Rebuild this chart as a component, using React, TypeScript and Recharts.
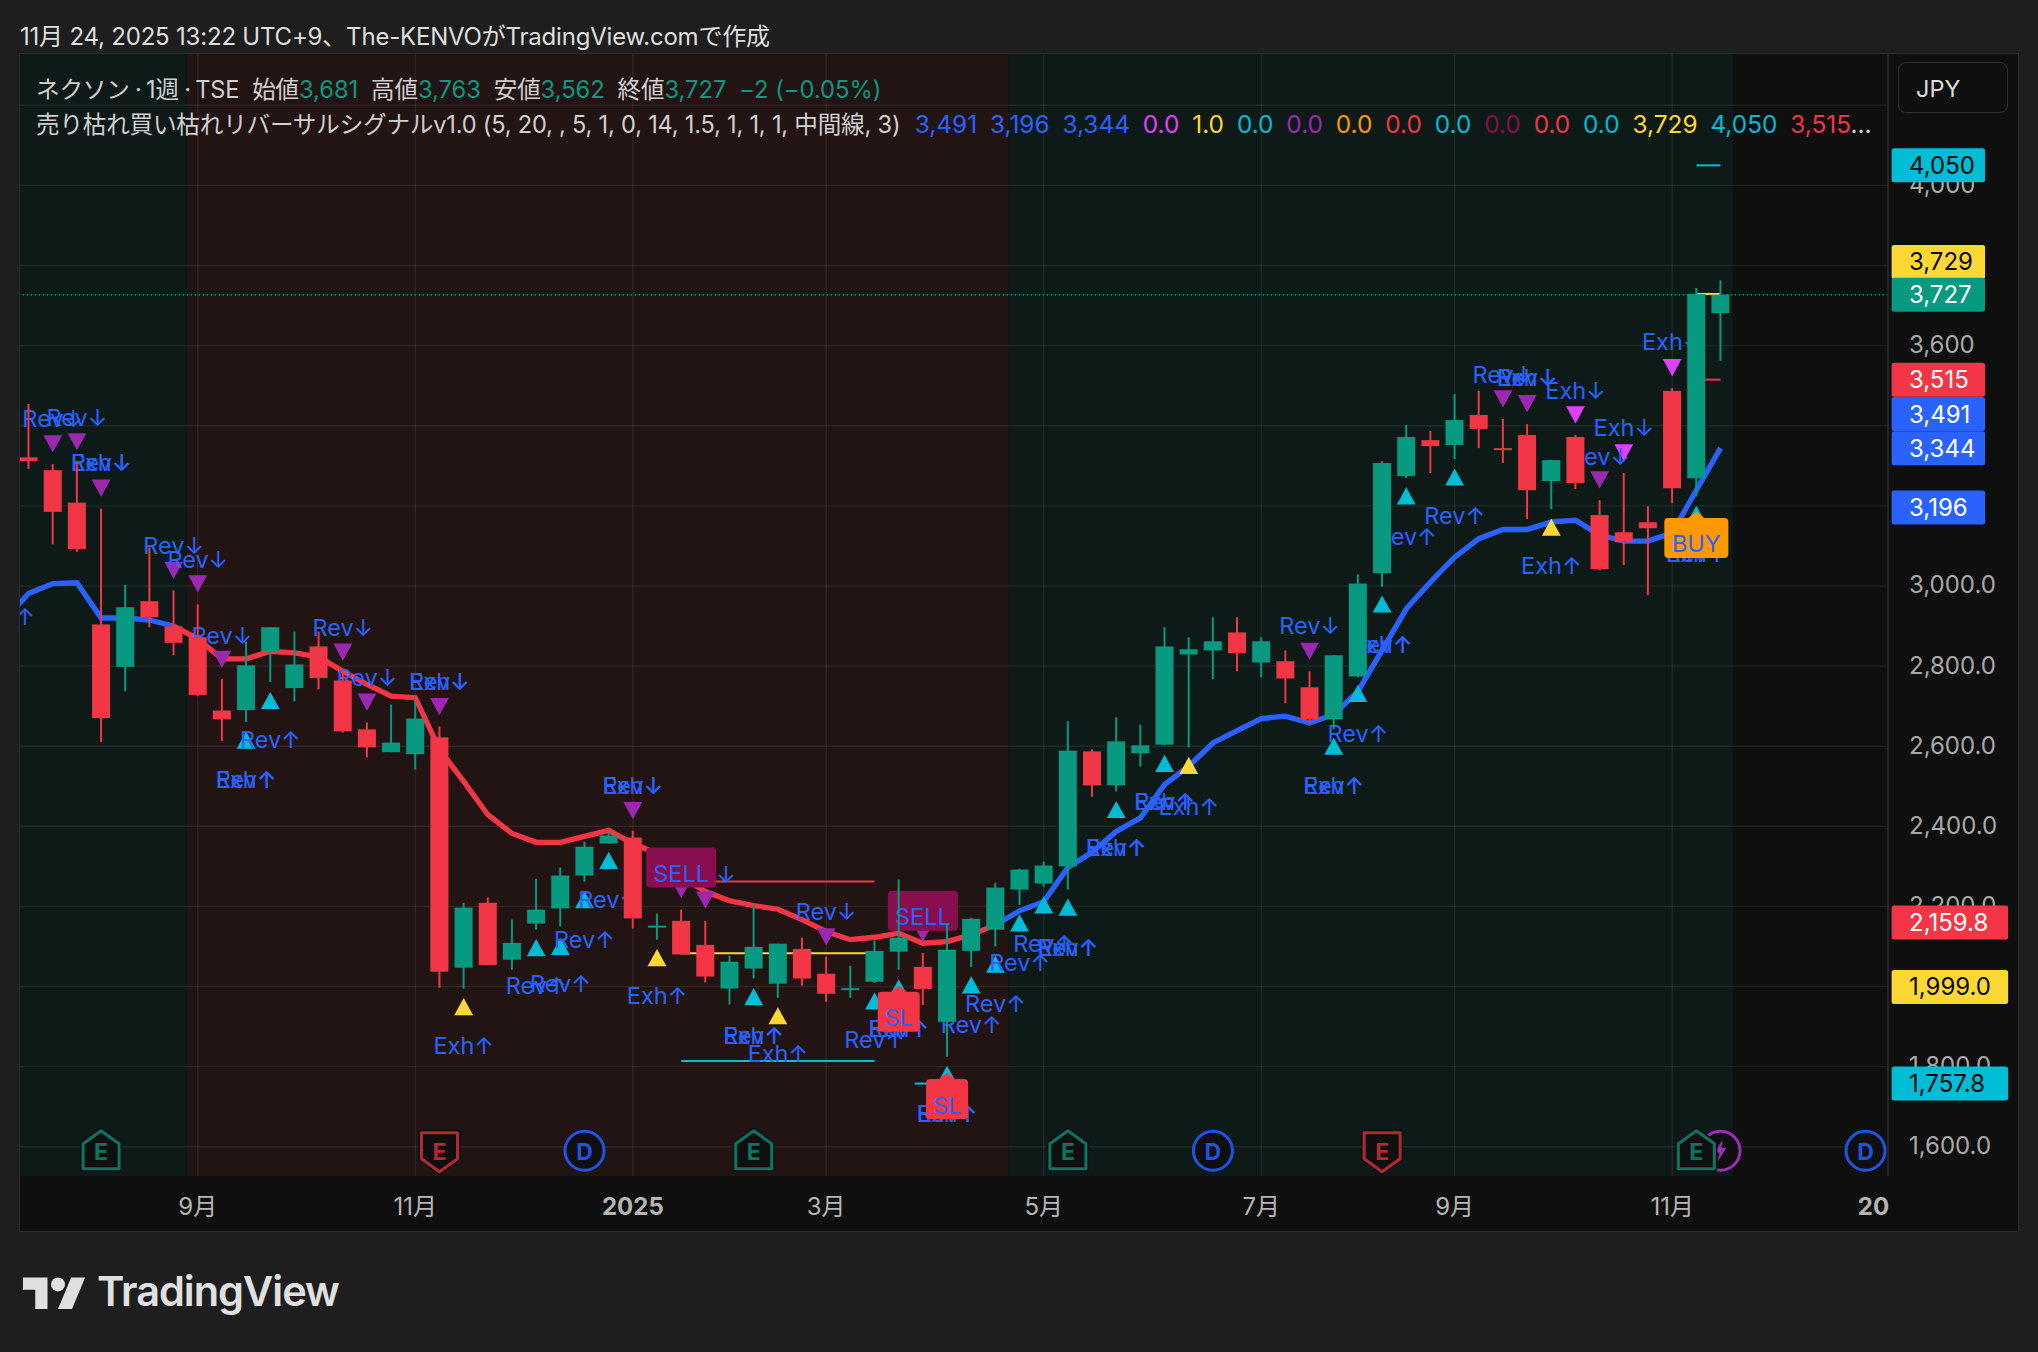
import React from "react";
import { ComposedChart, Bar, Line, Scatter, XAxis, YAxis, ReferenceLine, ReferenceArea } from "recharts";

const opens = [3321,3289,3208,2904,2798,2962,2899,2872,2689,2690,2837,2745,2849,2764,2642,2585,2580,2622,2047,2209,2067,2157,2195,2277,2357,2372,2148,2164,2104,1995,2045,2007,2094,2032,1992,2012,2087,2049,1912,2089,2142,2242,2257,2300,2587,2502,2582,2604,2829,2839,2884,2809,2812,2747,2667,2774,3032,3274,3364,3352,3427,3344,3377,3262,3372,3177,3134,3159,3487,3269,3681];
const highs = [3454,3304,3308,3193,3003,3096,2989,2954,2767,2861,2897,2886,2886,2792,2659,2704,2711,2649,2209,2222,2167,2269,2297,2362,2387,2389,2182,2192,2164,2077,2204,2107,2122,2074,2052,2114,2267,2084,2158,2172,2259,2294,2312,2662,2592,2672,2654,2897,2872,2922,2922,2872,2839,2787,2827,3029,3312,3402,3387,3479,3487,3417,3404,3314,3377,3214,3282,3199,3494,3744,3763];
const lows = [3292,3104,3085,2610,2737,2897,2827,2725,2613,2660,2760,2712,2742,2634,2572,2585,2542,1997,1995,2054,2042,2142,2150,2262,2357,2145,2117,2080,2010,1955,2020,1972,2002,1962,1972,2009,2042,1954,1825,2049,2100,2204,2249,2242,2474,2487,2549,2602,2597,2767,2787,2772,2707,2657,2642,2772,2998,3269,3282,3317,3344,3307,3167,3192,3242,3039,3052,2977,3207,3224,3562];
const closes = [3312,3185,3092,2670,2947,2922,2858,2728,2667,2802,2897,2804,2770,2637,2597,2609,2669,2037,2197,2054,2109,2192,2277,2349,2377,2170,2152,2080,2025,2062,2099,2107,2020,1982,1996,2089,2122,1994,2092,2169,2247,2292,2302,2589,2502,2612,2602,2849,2842,2862,2832,2862,2769,2667,2827,3006,3307,3372,3349,3414,3392,3340,3239,3314,3257,3042,3109,3144,3244,3729,3727];
// band line, first entry sits one week before the first candle
const bandBlue: (number | null)[] = [2916,2981,3006,3008,2920,2920,2915,2900,null,null,null,null,null,null,null,null,null,null,null,null,null,null,null,null,null,null,null,null,null,null,null,null,null,null,null,null,null,null,null,null,null,2154,2189,2212,2297,2335,2387,2421,2504,2550,2608,2639,2669,2675,2658,2679,2737,2840,2943,3010,3072,3118,3141,3141,3160,3164,3127,3112,3112,3132,3239,3344];
const bandRed: (number | null)[] = [null,null,null,null,null,null,null,2900,2868,2818,2818,2837,2833,2823,2787,2754,2725,2721,2592,2512,2429,2382,2360,2360,2375,2390,2357,2332,2275,2237,2214,2202,2193,2167,2137,2117,2123,2133,2108,2112,2129,2154];

const gridPrices = [1600,1800,2000,2200,2400,2600,2800,3000,3200,3400,3600,3800,4000,4200];
const gridWeeks = [7,16,25,33,42,51,59,68];
const axisPrices = [1600,1800,2200,2400,2600,2800,3000,3600,4000];
const axisPriceLabels = ["1,600.0","1,800.0","2,200.0","2,400.0","2,600.0","2,800.0","3,000.0","3,600","4,000"];
const tagPositions = [4050,3809,3727,3515,3429,3344,3196,2159.8,1999,1757.8];
const tagLabels = ["4,050","3,729","3,727","3,515","3,491","3,344","3,196","2,159.8","1,999.0","1,757.8"];
const tagColors = ["#00bcd4","#fdd835","#089981","#f23645","#2962ff","#2962ff","#2962ff","#f23645","#fdd835","#00bcd4"];
const tagInk = ["#0b0b0b","#0b0b0b","#ffffff","#ffffff","#ffffff","#ffffff","#ffffff","#ffffff","#0b0b0b","#0b0b0b"];

const monthWeeks = [7,16,25,33,42,51,59,68,76.33];
const monthLabels = ["9月","11月","2025","3月","5月","7月","9月","11月","20"];
const boldMonths = ["2025","20"];

const purpleDown = [[1,3355],[2,3360],[3,3244],[6,3039],[7,3005],[8,2817],[13,2835],[14,2710],[17,2699],[25,2439],[27,2242],[28,2216],[33,2124],[37,2133],[53,2837],[61,3467],[62,3455],[65,3265]];
const magentaDown = [[64,3427],[66,3332],[68,3545]];
const cyanUp = [[9,2615],[10,2714],[21,2097],[22,2100],[23,2217],[24,2315],[30,1975],[35,1964],[36,1997],[38,1781],[39,2004],[40,2056],[41,2159],[42,2204],[43,2198],[45,2442],[47,2557],[54,2600],[55,2732],[56,2955],[57,3225],[59,3272],[69,3179]];
const yellowUp = [[18,1950],[26,2072],[31,1927],[48,2552],[63,3147]];

const revDown = [[1,3417],[2,3421],[3,3307],[6,3102],[7,3067],[8,2877],[13,2897],[14,2771],[17,2762],[25,2502],[28,2279],[33,2187],[53,2902],[61,3529],[62,3521],[65,3322]];
const exhDown = [[3,3307],[17,2762],[25,2502],[62,3521],[64,3489],[66,3395],[68,3610]];
const revUp = [[-1,2925],[9,2517],[10,2617],[21,2002],[22,2007],[23,2117],[24,2217],[30,1877],[35,1867],[36,1896],[38,1683],[39,1906],[40,1957],[41,2060],[42,2108],[43,2098],[45,2347],[47,2462],[54,2502],[55,2632],[56,2854],[57,3124],[59,3175],[69,3081]];
const exhUp = [[9,2517],[18,1852],[26,1977],[30,1877],[31,1833],[36,1896],[38,1683],[43,2098],[45,2347],[47,2462],[48,2450],[54,2502],[56,2854],[63,3050],[69,3081]];

const boxes = [[27,2297,"SELL"],[37,2189,"SELL"],[36,1937,"SL"],[38,1719,"SL"],[69,3120,"BUY"]];
const levels = [[27,35,2262,"#f23645"],[27,35,2083,"#fdd835"],[27,35,1814,"#00bcd4"],[36.67,37.3,2159.8,"#f23645"],[36.67,37.3,1757.8,"#00bcd4"],[69,70,4050,"#00bcd4"],[69,70,3729,"#fdd835"],[69,70,3515,"#f23645"]];
const eventWeeks = [70,3,17,23,30,43,49,56,69,76];
const eventKinds = ["S","EG","ER","D","EG","EG","D","ER","EG","D"];
const eventPrice = 1590;

const legendValues = ["3,491","3,196","3,344","0.0","1.0","0.0","0.0","0.0","0.0","0.0","0.0","0.0","0.0","3,729","4,050","3,515"];
const legendColors = ["#2962ff","#2962ff","#2962ff","#e040fb","#fdd835","#00bcd4","#9c27b0","#ff9800","#f23645","#00bcd4","#880e4f","#f23645","#00bcd4","#fdd835","#00bcd4","#f23645"];

const FONT = "Inter, 'Noto Sans CJK JP', sans-serif";
const UP = "#089981";
const DOWN = "#f23645";
const GRID = "rgba(255,255,255,0.07)";
const AXIS_LEFT = 1868;
const LABEL_SIZE = 23.5;
const AXIS_SIZE = 24;

const table = [
  { i: -1, blue: bandBlue[0], red: null as number | null },
  ...opens.map((o, k) => ({
    i: k, open: o, high: highs[k], low: lows[k], close: closes[k],
    range: [lows[k], highs[k]],
    blue: bandBlue[k + 1] ?? null,
    red: bandRed[k + 1] ?? null,
  })),
];
const pts = (a: number[][]) => a.map(([i, y]) => ({ i, y }));

function Candle(p: any) {
  const d = p.payload;
  if (!d || d.open === undefined || !p.height) return <g />;
  const cx = p.x + p.width / 2;
  const perUnit = p.height / (d.high - d.low);
  const yOf = (v: number) => p.y + (d.high - v) * perUnit;
  const color = d.close >= d.open ? UP : DOWN;
  const top = yOf(Math.max(d.open, d.close));
  const h = Math.max(2, Math.abs(d.open - d.close) * perUnit);
  return (
    <g>
      <rect x={cx - 1} y={p.y} width={2} height={p.height} fill={color} />
      <rect x={cx - 9} y={top} width={18} height={h} fill={color} />
    </g>
  );
}
const tri = (color: string, up: boolean) => (p: any) => {
  const { cx, cy } = p;
  const w = 9.4, h = 8.6;
  const d = up
    ? `M${cx - w},${cy + h}L${cx},${cy - h}L${cx + w},${cy + h}Z`
    : `M${cx - w},${cy - h}L${cx},${cy + h}L${cx + w},${cy - h}Z`;
  return <path d={d} fill={color} />;
};
const label = (text: string) => (p: any) => (
  <text x={p.cx} y={p.cy} textAnchor="middle" dominantBaseline="central" fontFamily={FONT} fontSize={LABEL_SIZE} fill="#2962ff">{text}</text>
);
function BoxShape(p: any) {
  const kind = p.payload.kind;
  const { cx, cy } = p;
  const spec: any = { SELL: [70, "#880e4f", 0], SL: [42, "#f23645", 1], BUY: [64, "#ff9800", 1] }[kind];
  const [w, fill, notch] = spec;
  return (
    <g>
      {notch ? <path d={`M${cx - 8},${cy - 20}L${cx},${cy - 26}L${cx + 8},${cy - 20}Z`} fill={fill} /> : null}
      <rect x={cx - w / 2} y={cy - 20} width={w} height={40} rx={4} fill={fill} />
      <text x={cx} y={cy + 6} textAnchor="middle" dominantBaseline="central" fontFamily={FONT} fontSize={LABEL_SIZE} fill="#2962ff">{kind}</text>
    </g>
  );
}
function EventShape(p: any) {
  const { cx, cy } = p;
  const kind = p.payload.kind;
  const t = (s: string, c: string) => (
    <text x={cx} y={cy + 1} textAnchor="middle" dominantBaseline="central" fontFamily={FONT} fontSize={23} fontWeight={700} fill={c}>{s}</text>
  );
  if (kind === "EG") return (
    <g>
      <path d={`M${cx - 18},${cy - 7}L${cx},${cy - 20}L${cx + 18},${cy - 7}L${cx + 18},${cy + 18}L${cx - 18},${cy + 18}Z`} fill="#0f0f0f" stroke="#0f0f0f" strokeWidth={6} strokeLinejoin="round" />
      <path d={`M${cx - 18},${cy - 7}L${cx},${cy - 20}L${cx + 18},${cy - 7}L${cx + 18},${cy + 18}L${cx - 18},${cy + 18}Z`} fill="#0f0f0f" stroke="#0a7562" strokeWidth={3} strokeLinejoin="round" />
      {t("E", "#0a7562")}
    </g>
  );
  if (kind === "ER") return (
    <g>
      <path d={`M${cx - 18},${cy - 18}L${cx + 18},${cy - 18}L${cx + 18},${cy + 8}L${cx},${cy + 21}L${cx - 18},${cy + 8}Z`} fill="#0f0f0f" stroke="#0f0f0f" strokeWidth={6} strokeLinejoin="round" />
      <path d={`M${cx - 18},${cy - 18}L${cx + 18},${cy - 18}L${cx + 18},${cy + 8}L${cx},${cy + 21}L${cx - 18},${cy + 8}Z`} fill="#0f0f0f" stroke="#b22833" strokeWidth={3} strokeLinejoin="round" />
      {t("E", "#b22833")}
    </g>
  );
  if (kind === "D") return (
    <g>
      <circle cx={cx} cy={cy} r={19.5} fill="#0f0f0f" stroke="#1e53e5" strokeWidth={3} />
      {t("D", "#1e53e5")}
    </g>
  );
  return (
    <g>
      <circle cx={cx} cy={cy} r={19.5} fill="#0f0f0f" stroke="#9c2fb5" strokeWidth={3} />
      <path d={`M${cx + 2},${cy - 11}L${cx - 6},${cy + 2}L${cx - 1},${cy + 2}L${cx - 3},${cy + 11}L${cx + 6},${cy - 3}L${cx + 1},${cy - 3}Z`} fill="#9c2fb5" />
    </g>
  );
}
function PriceTick(p: any) {
  const v = p.payload.value;
  const tag = tagPositions.indexOf(v);
  if (tag >= 0) {
    const long = tagLabels[tag].includes(".");
    const w = long ? 116.5 : 93.5;
    return (
      <g>
        <rect x={AXIS_LEFT + 3.6} y={p.y - 17} width={w} height={34} rx={2.5} fill={tagColors[tag]} />
        <text x={AXIS_LEFT + 21} y={p.y} dominantBaseline="central" fontFamily={FONT} fontSize={AXIS_SIZE} fill={tagInk[tag]}>{tagLabels[tag]}</text>
      </g>
    );
  }
  const k = axisPrices.indexOf(v);
  return (
    <text x={AXIS_LEFT + 21} y={p.y - 1} dominantBaseline="central" fontFamily={FONT} fontSize={AXIS_SIZE} fill="#a9a9a9">{axisPriceLabels[k]}</text>
  );
}
function MonthTick(p: any) {
  const k = monthWeeks.indexOf(p.payload.value);
  const s = monthLabels[k];
  return (
    <text x={p.x} y={1152} textAnchor="middle" dominantBaseline="central" fontFamily={FONT} fontSize={24} fontWeight={boldMonths.includes(s) ? 700 : 400} fill="#b5b5b5">{s}</text>
  );
}

const sp = (c: string, s: string) => <span style={{ color: c, fontSize: 23.8, letterSpacing: -0.05 }}>{s}</span>;
const dot = <span style={{ letterSpacing: -1.2 }}> · </span>;

export default function App() {
  return (
    <div style={{ position: "absolute", left: 0, top: 0, width: 2038, height: 1352, background: "#1e1e1e", overflow: "hidden", fontFamily: FONT }}>
      <div style={{ position: "absolute", left: 20, top: 17, fontSize: 24, color: "#dedede", whiteSpace: "nowrap", letterSpacing: -0.2 }}>11月 24, 2025 13:22 UTC+9、The-KENVOがTradingView.comで作成</div>
      <div style={{ position: "absolute", left: 20, top: 54, width: 1998, height: 1177, background: "#0f0f0f", outline: "1.5px solid #2c2c2c" }}>
        <ComposedChart width={1998} height={1177} data={table} margin={{ top: 0, right: 0, bottom: 0, left: 0 }}>
          <XAxis dataKey="i" type="number" domain={[-0.356, 76.93]} allowDataOverflow ticks={monthWeeks} interval={0} tick={MonthTick} tickLine={false} axisLine={false} height={55} />
          <YAxis orientation="right" type="number" domain={[1527, 4328]} allowDataOverflow ticks={[...gridPrices.filter((g) => axisPrices.includes(g)), ...tagPositions]} interval={0} tick={PriceTick} tickLine={false} axisLine={{ stroke: "#2c2c2c", strokeWidth: 1.5 }} width={130} />
          <ReferenceArea x1={-0.356} x2={6.55} fill="#0e1a18" fillOpacity={1} stroke="none" zIndex={-90} />
          <ReferenceArea x1={6.55} x2={40.54} fill="#231414" fillOpacity={1} stroke="none" zIndex={-90} />
          <ReferenceArea x1={40.54} x2={70.5} fill="#0e1a18" fillOpacity={1} stroke="none" zIndex={-90} />
          {gridPrices.map((g) => <ReferenceLine key={"h" + g} y={g} stroke={GRID} strokeWidth={1.4} zIndex={-80} />)}
          {gridWeeks.map((g) => <ReferenceLine key={"v" + g} x={g} stroke={GRID} strokeWidth={1.4} zIndex={-80} />)}
          <ReferenceLine y={3727} stroke={UP} strokeWidth={1.4} strokeDasharray="1.4 2.6" zIndex={-70} />
          {levels.map((l: any, k) => (
            <ReferenceLine key={"l" + k} segment={[{ x: l[0], y: l[2] }, { x: l[1], y: l[2] }]} stroke={l[3]} strokeWidth={2} zIndex={-60} />
          ))}
          <Line dataKey="blue" stroke="#2962ff" strokeWidth={5.3} dot={false} activeDot={false} isAnimationActive={false} zIndex={100} />
          <Line dataKey="red" stroke="#f23645" strokeWidth={5.3} dot={false} activeDot={false} isAnimationActive={false} zIndex={100} />
          <Scatter data={pts(purpleDown)} dataKey="y" shape={tri("#9c27b0", false)} isAnimationActive={false} zIndex={110} />
          <Scatter data={pts(magentaDown)} dataKey="y" shape={tri("#e040fb", false)} isAnimationActive={false} zIndex={110} />
          <Scatter data={pts(cyanUp)} dataKey="y" shape={tri("#00bcd4", true)} isAnimationActive={false} zIndex={110} />
          <Scatter data={pts(yellowUp)} dataKey="y" shape={tri("#fdd835", true)} isAnimationActive={false} zIndex={110} />
          <Scatter data={pts(revDown)} dataKey="y" shape={label("Rev↓")} isAnimationActive={false} zIndex={120} />
          <Scatter data={pts(exhDown)} dataKey="y" shape={label("Exh↓")} isAnimationActive={false} zIndex={120} />
          <Scatter data={pts(revUp)} dataKey="y" shape={label("Rev↑")} isAnimationActive={false} zIndex={120} />
          <Scatter data={pts(exhUp)} dataKey="y" shape={label("Exh↑")} isAnimationActive={false} zIndex={120} />
          <Scatter data={boxes.map((b) => ({ i: b[0], y: b[1], kind: b[2] }))} dataKey="y" shape={BoxShape} isAnimationActive={false} zIndex={130} />
          <Bar dataKey="range" barSize={18} shape={Candle} isAnimationActive={false} zIndex={140} />
          <Scatter data={eventWeeks.map((w, k) => ({ i: w, y: eventPrice, kind: eventKinds[k] }))} dataKey="y" shape={EventShape} isAnimationActive={false} zIndex={150} />
        </ComposedChart>
      </div>
      <div style={{ position: "absolute", left: 36, top: 71, fontSize: 23.6, color: "#cfcfcf", whiteSpace: "nowrap", letterSpacing: -0.2 }}>
        ネクソン{dot}1週{dot}TSE&nbsp;&nbsp;始値{sp(UP, "3,681")}&nbsp;&nbsp;高値{sp(UP, "3,763")}&nbsp;&nbsp;安値{sp(UP, "3,562")}&nbsp;&nbsp;終値{sp(UP, "3,727")}&nbsp;&nbsp;{sp(UP, "−2 (−0.05%)")}
      </div>
      <div style={{ position: "absolute", left: 36, top: 105.5, fontSize: 23.6, color: "#cfcfcf", whiteSpace: "nowrap", letterSpacing: -0.2, display: "flex", gap: 12.9, alignItems: "baseline" }}>
        <span style={{ marginRight: 1.5 }}>売り枯れ買い枯れリバーサルシグナルv1.0 (5, 20, , 5, 1, 0, 14, 1.5, 1, 1, 1, 中間線, 3)</span>
        {legendValues.map((v, k) => (
          <span key={k} style={{ color: legendColors[k], fontSize: 24.4, letterSpacing: 0 }}>{v}{k === legendValues.length - 1 ? <span style={{ color: "#cfcfcf" }}>...</span> : null}</span>
        ))}
      </div>
      <div style={{ position: "absolute", left: 1898, top: 62, width: 110, height: 51, boxSizing: "border-box", border: "1.5px solid #2f2f2f", borderRadius: 8, background: "#0f0f0f", color: "#dcdcdc", fontSize: 23.5, lineHeight: "51px", paddingLeft: 17 }}>JPY</div>
      <svg style={{ position: "absolute", left: 23, top: 1270 }} width={63} height={48} viewBox="0 0 36 27">
        <path fill="#e0e0e0" d="M14 22H7V11H0V4h14v18zM28 22h-8l7.5-18h8L28 22z" />
        <circle fill="#e0e0e0" cx="20" cy="8" r="4" />
      </svg>
      <div style={{ position: "absolute", left: 97, top: 1265.5, fontSize: 41.5, fontWeight: 600, color: "#e0e0e0", letterSpacing: -1, whiteSpace: "nowrap" }}>TradingView</div>
    </div>
  );
}
